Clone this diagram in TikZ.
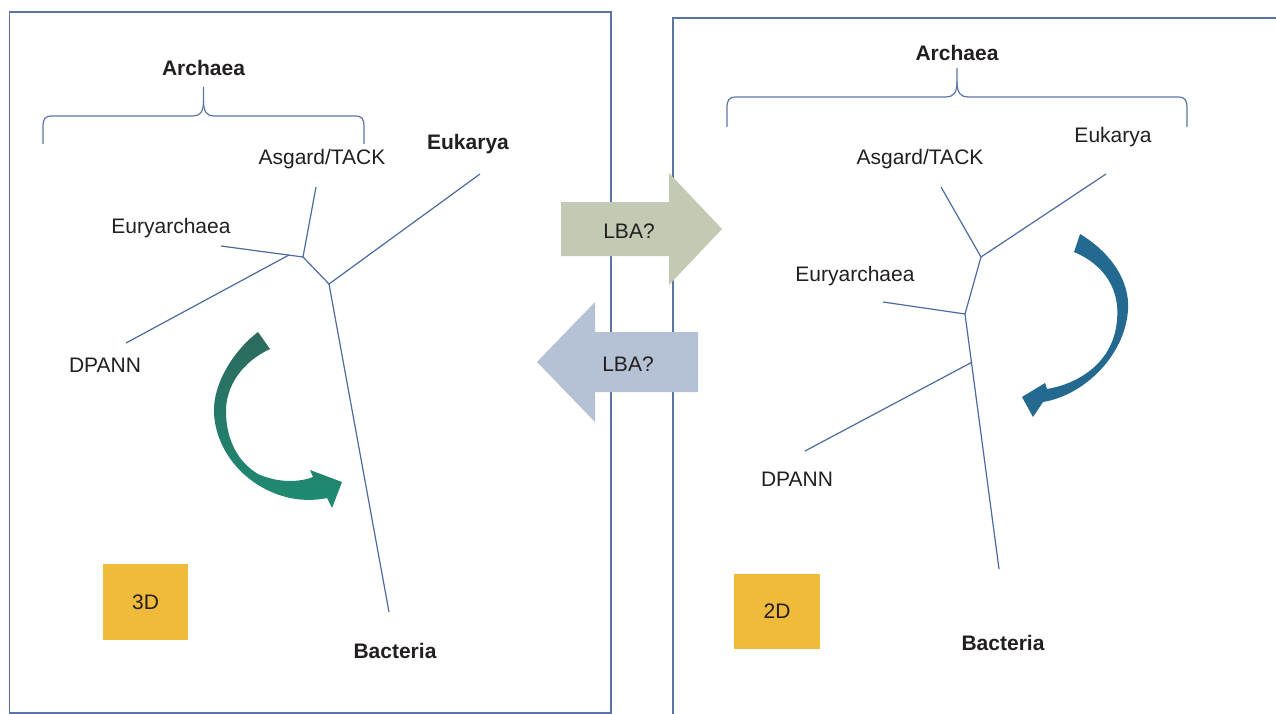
\documentclass[tikz,border=0pt]{standalone}
\usepackage{fontspec}
\setmainfont{Liberation Sans}
\usetikzlibrary{calc}
\definecolor{boxline}{HTML}{5B74A6}
\definecolor{treeline}{HTML}{4C6BA0}
\definecolor{txt}{HTML}{231F20}
\definecolor{gold}{HTML}{F0BA3A}
\definecolor{sage}{HTML}{C3CAB4}
\definecolor{bluegrey}{HTML}{B5C2D6}
\definecolor{greentop}{HTML}{2C6A5E}
\definecolor{greenbot}{HTML}{1E8B72}
\definecolor{bluearr}{HTML}{246A90}
\tikzset{
  lbl/.style={text=txt, font=\fontsize{21}{25}\selectfont, inner sep=0pt},
  blbl/.style={lbl, font=\fontsize{21}{25}\selectfont\bfseries},
  panel/.style={draw=boxline, line width=1.4pt},
  branch/.style={draw=treeline, line width=1.2pt},
  brace/.style={draw=boxline, line width=1.2pt},
  dimbox/.style={fill=gold, draw=none, inner sep=0pt, text=txt, font=\fontsize{21}{25}\selectfont},
}
\begin{document}
\begin{tikzpicture}[x=1pt,y=-1pt]
\useasboundingbox (0,0) rectangle (1276,714);
\fill[white] (0,0) rectangle (1276,714);

% ---------- panels ----------
\draw[panel] (9.5,12) rectangle (611,713);
\draw[panel] (673,714) -- (673,18) -- (1276,18);

% ---------- LEFT PANEL (3D) ----------
\node[blbl] (archL) at (203.5,68) {Archaea};
\draw[brace] (203.5,87) -- (203.5,101) .. controls (203.5,112) and (200,116) .. (193,116) -- (52,116) .. controls (45,116) and (43,119) .. (43,126) -- (43,144);
\draw[brace] (203.5,101) .. controls (203.5,112) and (207,116) .. (214,116) -- (355,116) .. controls (362,116) and (364,119) .. (364,126) -- (364,144);

\node[lbl] (asgL) at (322,159) {Asgard/TACK};
\node[blbl] (eukL) at (468,144) {Eukarya};
\node[lbl] (euryL) at (171,228) {Euryarchaea};
\node[lbl] (dpannL) at (105,365) {DPANN};
\node[blbl] (bactL) at (395,651) {Bacteria};

\coordinate (lA) at (303,257);
\coordinate (lB) at (329,284);
\coordinate (lAsg) at (316,187);
\coordinate (lEur) at (221,246);
\coordinate (lDjoin) at (289,255);
\coordinate (lDp) at (126,343);
\coordinate (lEuk) at (480,174);
\coordinate (lBac) at (389,612);
\draw[branch] (lAsg) -- (lA);
\draw[branch] (lEur) -- (lA);
\draw[branch] (lDp) -- (lDjoin);
\draw[branch] (lA) -- (lB);
\draw[branch] (lEuk) -- (lB);
\draw[branch] (lB) -- (lBac);

\node[dimbox, minimum width=85pt, minimum height=76pt] (d3) at (145.5,602) {3D};

% green curved arrow
\shade[top color=greentop, bottom color=greenbot]
  (258,332) .. controls (232,352) and (213,385) .. (214,412)
  .. controls (215,450) and (245,488) .. (290,498)
  .. controls (305,501) and (318,500) .. (327,498)
  -- (332,508) -- (342,482) -- (310,470) -- (313,477)
  .. controls (295,484) and (273,481) .. (258,474)
  .. controls (238,462) and (226,440) .. (226,411)
  .. controls (226,386) and (242,362) .. (270,349) -- cycle;

% ---------- RIGHT PANEL (2D) ----------
\node[blbl] (archR) at (957,53) {Archaea};
\draw[brace] (957,68) -- (957,82) .. controls (957,93) and (953,97) .. (946,97) -- (736,97) .. controls (729,97) and (727,100) .. (727,108) -- (727,127);
\draw[brace] (957,82) .. controls (957,93) and (961,97) .. (968,97) -- (1178,97) .. controls (1185,97) and (1187,100) .. (1187,108) -- (1187,127);

\node[lbl] (asgR) at (920,159) {Asgard/TACK};
\node[lbl] (eukR) at (1113,137) {Eukarya};
\node[lbl] (euryR) at (855,276) {Euryarchaea};
\node[lbl] (dpannR) at (797,479) {DPANN};
\node[blbl] (bactR) at (1003,643) {Bacteria};

\coordinate (rC) at (981,257);
\coordinate (rD) at (965,314);
\coordinate (rAsg) at (941,187);
\coordinate (rEuk) at (1106,174);
\coordinate (rEur) at (883,302);
\coordinate (rBac) at (999,569);
\coordinate (rDjoin) at ($(rD)!0.19!(rBac)$);
\coordinate (rDp) at (805,451);
\draw[branch] (rAsg) -- (rC);
\draw[branch] (rEuk) -- (rC);
\draw[branch] (rC) -- (rD);
\draw[branch] (rEur) -- (rD);
\draw[branch] (rD) -- (rBac);
\draw[branch] (rDp) -- (rDjoin);

\node[dimbox, minimum width=86pt, minimum height=75pt] (d2) at (777,611.5) {2D};

% blue curved arrow
\fill[bluearr]
  (1080,234) .. controls (1110,252) and (1130,280) .. (1128,310)
  .. controls (1125,355) and (1085,395) .. (1043,402)
  -- (1033,417) -- (1022,397) -- (1045,383) -- (1047,389)
  .. controls (1082,383) and (1114,360) .. (1117,320)
  .. controls (1120,290) and (1105,265) .. (1074,252) -- cycle;

% ---------- LBA arrows ----------
\fill[sage] (561,202) -- (669,202) -- (669,173) -- (722,229) -- (669,285) -- (669,256) -- (561,256) -- cycle;
\node[lbl] (lbaR) at (629,231) {LBA?};
\fill[bluegrey] (698,332) -- (595,332) -- (595,302) -- (537,362) -- (595,422) -- (595,392) -- (698,392) -- cycle;
\node[lbl] (lbaL) at (628,364) {LBA?};
\end{tikzpicture}
\end{document}
